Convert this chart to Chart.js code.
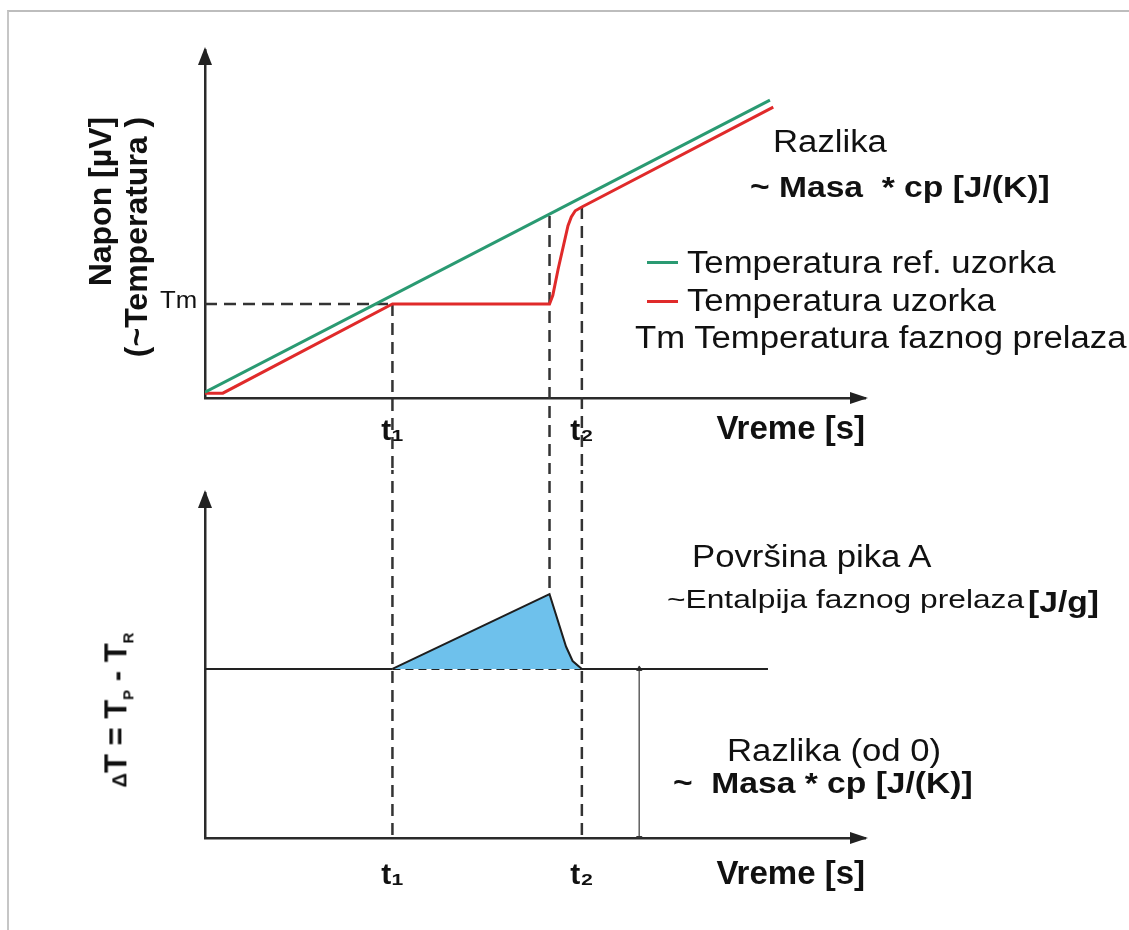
<!DOCTYPE html>
<html>
<head>
<meta charset="utf-8">
<script src="https://cdn.jsdelivr.net/npm/chart.js@4.4.1/dist/chart.umd.min.js"></script>
<style>
  html, body { margin: 0; padding: 0; background: #fff; }
  #wrap { position: relative; width: 1129px; height: 930px; overflow: hidden; font-family: "Liberation Sans", Arial, sans-serif; color: #111; }
  #frame { position: absolute; left: 7px; top: 10px; width: 1140px; height: 940px; border-top: 2px solid #bdbdbd; border-left: 2px solid #c6c6c6; }
  canvas { position: absolute; left: 0; }
  #topChart { top: 0; }
  #botChart { top: 470px; }
  .t { position: absolute; white-space: nowrap; line-height: 1; font-size: 31px; transform: scaleX(1.12); transform-origin: 0 50%; }
  .b { font-weight: bold; font-size: 30px; }
  .rot { position: absolute; white-space: nowrap; font-weight: bold; transform: translate(-50%, -50%) rotate(-90deg); }
  .key { position: absolute; width: 31px; height: 3px; }
</style>
</head>
<body>
<div id="wrap">
  <div id="frame"></div>
  <canvas id="topChart" width="1129" height="470"></canvas>
  <canvas id="botChart" width="1129" height="460"></canvas>

  <div class="rot" style="left:118px; top:237px; font-size:32px; line-height:36px; text-align:right;">Napon [µV]<br>(~Temperatura )</div>
  <div class="t" style="left:160px; top:289px; font-size:23px;">Tm</div>
  <div class="t" style="left:773px; top:126px;">Razlika</div>
  <div class="t b" style="left:750px; top:172px;">~ Masa &nbsp;* cp [J/(K)]</div>
  <div class="key" style="left:647px; top:261px; background:#2a9a72;"></div>
  <div class="t" style="left:687px; top:247px;">Temperatura ref. uzorka</div>
  <div class="key" style="left:647px; top:300px; background:#e02a2a;"></div>
  <div class="t" style="left:687px; top:285px;">Temperatura uzorka</div>
  <div class="t" style="left:635px; top:322px;">Tm Temperatura faznog prelaza</div>

  <div class="rot" style="left:122px; top:710px; font-size:31px; line-height:31px;"><span style="font-size:20px">Δ</span>T = T<sub style="font-size:15px">P</sub> - T<sub style="font-size:15px">R</sub></div>
  <div class="t" style="left:692px; top:541px;">Površina pika A</div>
  <div class="t" style="left:667px; top:586px; font-size:26px; transform:scaleX(1.22);">~Entalpija faznog prelaza</div>
  <div class="t b" style="left:1028px; top:587px;">[J/g]</div>
  <div class="t" style="left:727px; top:735px;">Razlika (od 0)</div>
  <div class="t b" style="left:673px; top:768px;">~ &nbsp;Masa * cp [J/(K)]</div>
</div>

<script>
// time axis runs 0..100, t1 and t2 marks
const tickX = [28.4, 57.1];
const tickLabels = ['t₁', 't₂'];
const onsetX = 52.2;

// top plot: reference and sample temperature
const refX = [0, 85.6];
const refY = [1.7, 85.6];
const sampleX = [0, 2.7, 28.4, 52.2, 52.7, 53.5, 55.0, 55.5, 56.1, 57.1, 86.1];
const sampleY = [1.4, 1.4, 27.0, 27.0, 29.5, 37.0, 49.5, 52.0, 53.8, 54.9, 83.6];
const tmY = 27.0;
const onsetTopY = 52.3;

// bottom plot: delta T
const baseY = 49;
const baseX = [0, 28.4, 57.1, 85.3];
const peakX = [28.4, 52.2, 54.7, 55.7, 57.1];
const peakY = [49, 70.7, 55.5, 51.3, 49];
const cpArrowX = 65.8;

const FONT = '"Liberation Sans", Arial, sans-serif';
const pts = (xs, ys) => xs.map((x, i) => ({ x: x, y: ys[i] }));

function dashed(xs, ys) {
    return {
        data: pts(xs, ys),
        borderColor: '#333',
        borderWidth: 2.5,
        borderDash: [12, 7],
        pointRadius: 0,
        clip: false
    };
}

const axisArrows = {
    id: 'axisArrows',
    afterDraw(chart) {
        const { ctx, chartArea: a } = chart;
        ctx.save();
        ctx.fillStyle = '#222';
        ctx.beginPath();
        ctx.moveTo(a.left, a.top - 3);
        ctx.lineTo(a.left - 7, a.top + 15);
        ctx.lineTo(a.left + 7, a.top + 15);
        ctx.closePath();
        ctx.fill();
        ctx.beginPath();
        ctx.moveTo(a.right + 3, a.bottom);
        ctx.lineTo(a.right - 15, a.bottom - 6);
        ctx.lineTo(a.right - 15, a.bottom + 6);
        ctx.closePath();
        ctx.fill();
        ctx.restore();
    }
};

function baseOptions(padTop, axisH, tickPad, titlePad) {
    return {
        responsive: false,
        animation: false,
        devicePixelRatio: 1,
        layout: { padding: { left: 0, right: 264, top: padTop, bottom: 0 } },
        plugins: { legend: { display: false }, tooltip: { enabled: false } },
        elements: { line: { tension: 0 } },
        scales: {
            x: {
                type: 'linear', min: 0, max: 100,
                grid: { display: false, drawTicks: false },
                border: { color: '#2a2a2a', width: 2.5 },
                afterBuildTicks: s => { s.ticks = tickX.map(v => ({ value: v })); },
                afterFit: s => { s.height = axisH; },
                ticks: {
                    autoSkip: false, maxRotation: 0, padding: tickPad, color: '#111',
                    font: { family: FONT, size: 30, weight: 'bold' },
                    callback: (v, i) => tickLabels[i]
                },
                title: {
                    display: true, text: 'Vreme [s]', align: 'end', color: '#111',
                    font: { family: FONT, size: 33, weight: 'bold' },
                    padding: { top: 0, bottom: titlePad }
                }
            },
            y: {
                type: 'linear', min: 0, max: 100,
                grid: { display: false, drawTicks: false },
                border: { color: '#2a2a2a', width: 2.5 },
                ticks: { display: false },
                afterFit: s => { s.width = 205; }
            }
        }
    };
}

new Chart(document.getElementById('topChart'), {
    type: 'line',
    data: {
        datasets: [
            { data: pts(refX, refY), borderColor: '#2a9a72', borderWidth: 3, pointRadius: 0 },
            { data: pts(sampleX, sampleY), borderColor: '#e02a2a', borderWidth: 3, pointRadius: 0 },
            dashed([0, tickX[0]], [tmY, tmY]),
            dashed([tickX[0], tickX[0]], [tmY, -40]),
            dashed([onsetX, onsetX], [onsetTopY, -40]),
            dashed([tickX[1], tickX[1]], [sampleY[9], -40])
        ]
    },
    options: baseOptions(50, 72, 16, 20),
    plugins: [axisArrows]
});

new Chart(document.getElementById('botChart'), {
    type: 'line',
    data: {
        datasets: [
            {
                data: pts(peakX, peakY),
                borderColor: '#1e1e1e', borderWidth: 2, pointRadius: 0,
                backgroundColor: '#6ec1ec', fill: { value: baseY }
            },
            {
                data: pts(baseX, baseX.map(() => baseY)),
                borderColor: '#222', borderWidth: 2, pointRadius: 0,
                segment: { borderDash: c => c.p0DataIndex === 1 ? [8, 5] : undefined }
            },
            {
                data: pts([cpArrowX, cpArrowX], [baseY, 0]),
                borderColor: '#666', borderWidth: 1,
                pointStyle: 'triangle', pointRadius: 3,
                pointBackgroundColor: '#333', pointBorderColor: '#333',
                pointRotation: c => c.dataIndex === 0 ? 0 : 180
            },
            dashed([tickX[0], tickX[0]], [120, 0]),
            dashed([onsetX, onsetX], [120, peakY[1]]),
            dashed([tickX[1], tickX[1]], [120, 0])
        ]
    },
    options: baseOptions(23, 92, 20, 35),
    plugins: [axisArrows]
});
</script>
</body>
</html>
